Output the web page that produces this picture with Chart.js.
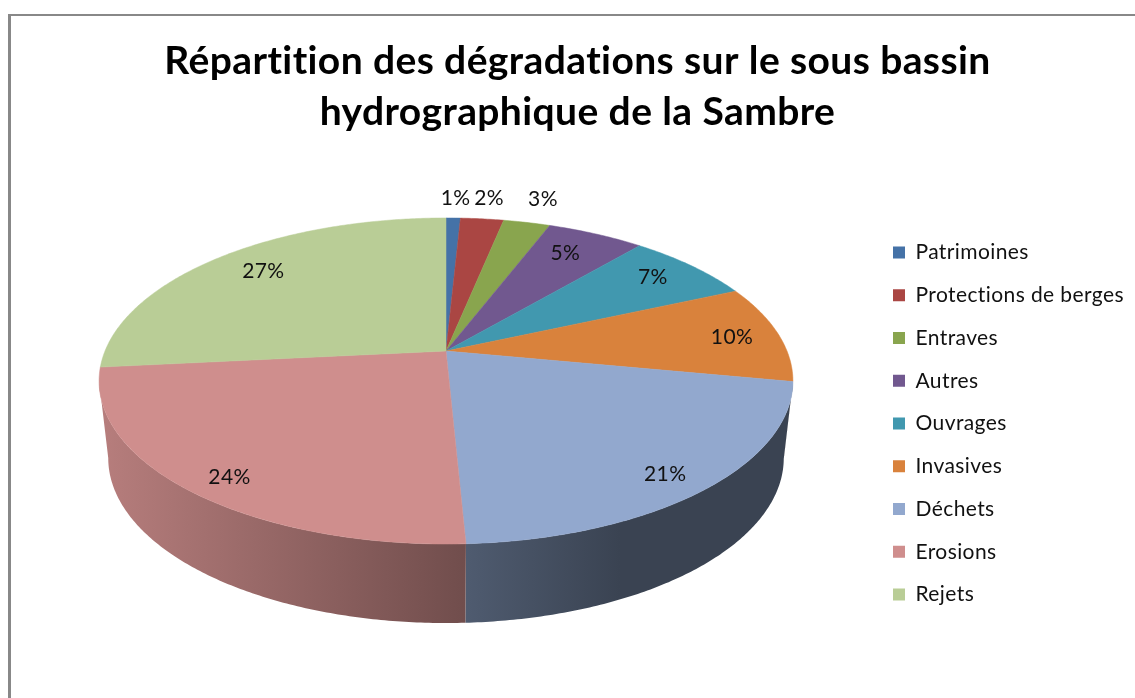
<!DOCTYPE html>
<html lang="fr">
<head>
<meta charset="utf-8">
<title>Répartition des dégradations</title>
<style>
html,body{margin:0;padding:0;background:#fff;overflow:hidden}
#frame{position:absolute;left:8px;top:14px;right:0;bottom:0;border-left:3px solid #888;border-top:2px solid #888;box-sizing:border-box}
canvas{position:absolute;left:0;top:0;display:block}
</style>
<script src="https://cdn.jsdelivr.net/npm/chart.js@4/dist/chart.umd.min.js"></script>
</head>
<body>
<div id="frame"></div>
<canvas id="c" width="1135" height="698"></canvas>
<script>
const titleLines = ["Répartition des dégradations sur le sous bassin", "hydrographique de la Sambre"];
const categories = ["Patrimoines","Protections de berges","Entraves","Autres","Ouvrages","Invasives","Déchets","Erosions","Rejets"];
const shares = [0.8,2.4,2.6,5.4,7.1,9.7,21.24,24.16,26.6];
const sliceColors = ["#4572A7","#AA4643","#89A54E","#71588F","#4198AF","#D9823C","#92A8CE","#CF8E8D","#B9CD96"];
const labelNudges = [[4,-49],[15,-50],[34,-52],[3,-7],[18,-8],[36,0],[32,24],[-30,26],[-9,-7]];

// Perspective view of the disc: top face and bottom rim
const K = -0.184;
const TOP = {cx:446, cy:351, bx:341, by:157.5};
const RIM = {cx:446, cy:427.7, bx:332, by:159.4};
const project = (g, a, f=1) => {
  const u = f*Math.cos(a), v = f*Math.sin(a), w = 1 + K*v;
  return [g.cx + g.bx*u/w, g.cy + g.by*v/w];
};
const shade = (hex, r) => {
  const n = parseInt(hex.slice(1),16);
  return `rgb(${Math.round((n>>16&255)*r)},${Math.round((n>>8&255)*r)},${Math.round((n&255)*r)})`;
};
const SIL_A = Math.asin(-K), FRONT_START = SIL_A, FRONT_END = Math.PI - SIL_A;

const pie3d = {
  id:'pie3d',
  beforeDraw(chart){ chart.ctx.letterSpacing = '0.4px'; },
  afterLayout(chart){
    const l = chart.legend, pad = l.options.labels.padding;
    const w = l.width;
    l.left = 893 - pad; l.right = l.left + w;
    l.top = 242 - pad; l.bottom = 698;
  },
  beforeDatasetDraw(chart, args){
    const ctx = chart.ctx, arcs = args.meta.data;
    ctx.save();
    const trace = (g, a0, a1, first) => {
      const n = Math.max(2, Math.ceil(Math.abs(a1-a0)/0.01));
      for(let i=0;i<=n;i++){
        const p = project(g, a0+(a1-a0)*i/n);
        if(first && i===0) ctx.moveTo(p[0],p[1]); else ctx.lineTo(p[0],p[1]);
      }
    };
    arcs.forEach((arc,i)=>{
      const s = Math.max(arc.startAngle, FRONT_START), e = Math.min(arc.endAngle, FRONT_END);
      if(e<=s) return;
      const g = ctx.createLinearGradient(105,0,620,0);
      g.addColorStop(0, shade(sliceColors[i],0.88));
      g.addColorStop(1, shade(sliceColors[i],0.40));
      ctx.beginPath();
      trace(TOP,s,e,true); trace(RIM,e,s,false);
      ctx.closePath();
      ctx.fillStyle = g; ctx.fill();
    });
    arcs.forEach((arc,i)=>{
      ctx.beginPath();
      ctx.moveTo(TOP.cx,TOP.cy);
      trace(TOP,arc.startAngle,arc.endAngle,false);
      ctx.closePath();
      ctx.fillStyle = sliceColors[i]; ctx.strokeStyle = sliceColors[i]; ctx.lineWidth = 0.5;
      ctx.fill(); ctx.stroke();
    });
    ctx.restore();
    return false;
  },
  afterDatasetsDraw(chart){
    const ctx = chart.ctx, arcs = chart.getDatasetMeta(0).data;
    ctx.save();
    ctx.font = '21px Lato'; ctx.fillStyle = '#111';
    ctx.textAlign = 'center'; ctx.textBaseline = 'middle';
    arcs.forEach((arc,i)=>{
      const p = project(TOP,(arc.startAngle+arc.endAngle)/2,0.75);
      ctx.fillText(Math.round(shares[i])+'%', p[0]+labelNudges[i][0], p[1]+labelNudges[i][1]);
    });
    ctx.restore();
  }
};

new Chart(document.getElementById('c'),{
  type:'pie',
  plugins:[pie3d],
  data:{labels:categories,datasets:[{data:shares,backgroundColor:sliceColors,borderWidth:0}]},
  options:{
    responsive:false,animation:false,
    layout:{padding:{left:20}},
    events:[],
    plugins:{
      tooltip:{enabled:false},
      title:{display:true,text:titleLines,color:'#000',
        font:{family:'Lato',size:39,weight:'bold',lineHeight:1.33},
        padding:{top:35,bottom:10}},
      legend:{position:'right',align:'start',
        labels:{boxWidth:12,boxHeight:12,padding:21.75,color:'#111',font:{family:'Lato',size:21}}}
    }
  }
});
</script>
</body>
</html>
